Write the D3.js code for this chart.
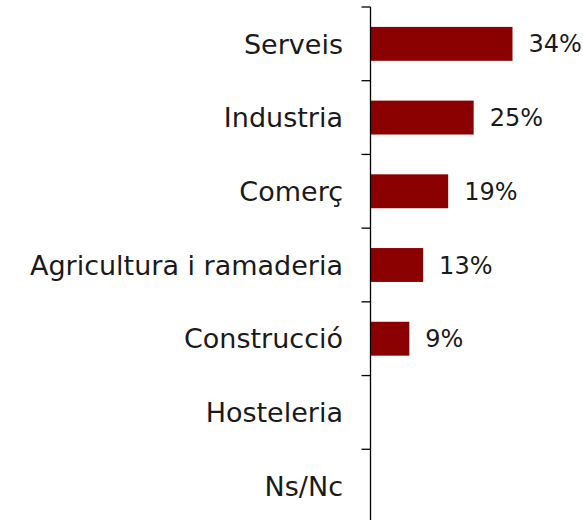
<!DOCTYPE html>
<html>
<head>
<meta charset="utf-8">
<script src="https://cdn.jsdelivr.net/npm/d3@7"></script>
<style>
  html, body { margin: 0; background: #fff; }
</style>
</head>
<body>
<script>
const categories = ['Serveis', 'Industria', 'Comerç', 'Agricultura i ramaderia', 'Construcció', 'Hosteleria', 'Ns/Nc']
const values = [34.0, 24.7, 18.6, 12.6, 9.3, null, null]
const labels = ['34%', '25%', '19%', '13%', '9%', '', '']

const width = 583
const height = 520
const axisX = 370.5

const svg = d3.select('body')
  .append('svg')
  .attr('width', width)
  .attr('height', height)
  .style('font-family', '"DejaVu Sans", sans-serif')

const y = d3.scaleBand()
  .domain(categories)
  .range([7, 523])
  .paddingInner(0.54)
  .paddingOuter(0.27)

const x = d3.scaleLinear()
  .domain([0, 34])
  .range([axisX, axisX + 142])

const step = y.step()
const top0 = y.range()[0]
const bounds = d3.range(categories.length + 1).map(i => top0 + i * step)

// bars
svg.append('g')
  .selectAll('rect')
  .data(categories.filter((c, i) => values[i] != null))
  .join('rect')
  .attr('x', x(0))
  .attr('y', d => y(d))
  .attr('width', d => x(values[categories.indexOf(d)]) - x(0))
  .attr('height', y.bandwidth())
  .attr('fill', '#8b0000')

// value labels
svg.append('g')
  .selectAll('text')
  .data(categories.filter((c, i) => values[i] != null))
  .join('text')
  .attr('x', d => x(values[categories.indexOf(d)]) + 16)
  .attr('y', d => y(d) + y.bandwidth() / 2)
  .attr('dy', '0.36em')
  .attr('font-size', 24)
  .attr('fill', '#1a1a1a')
  .text(d => labels[categories.indexOf(d)])

// axis line and boundary ticks
const ax = svg.append('g')
  .attr('stroke', '#000')
  .attr('stroke-width', 1.3)

ax.append('line')
  .attr('x1', axisX).attr('x2', axisX)
  .attr('y1', top0).attr('y2', height)

ax.selectAll('line.tick')
  .data(bounds)
  .join('line')
  .attr('class', 'tick')
  .attr('x1', axisX - 9).attr('x2', axisX)
  .attr('y1', d => d).attr('y2', d => d)

// category labels
svg.append('g')
  .selectAll('text')
  .data(categories)
  .join('text')
  .attr('x', 343)
  .attr('y', d => y(d) + y.bandwidth() / 2)
  .attr('dy', '0.36em')
  .attr('text-anchor', 'end')
  .attr('font-size', 27)
  .attr('fill', '#1a1a1a')
  .text(d => d)
</script>
</body>
</html>
